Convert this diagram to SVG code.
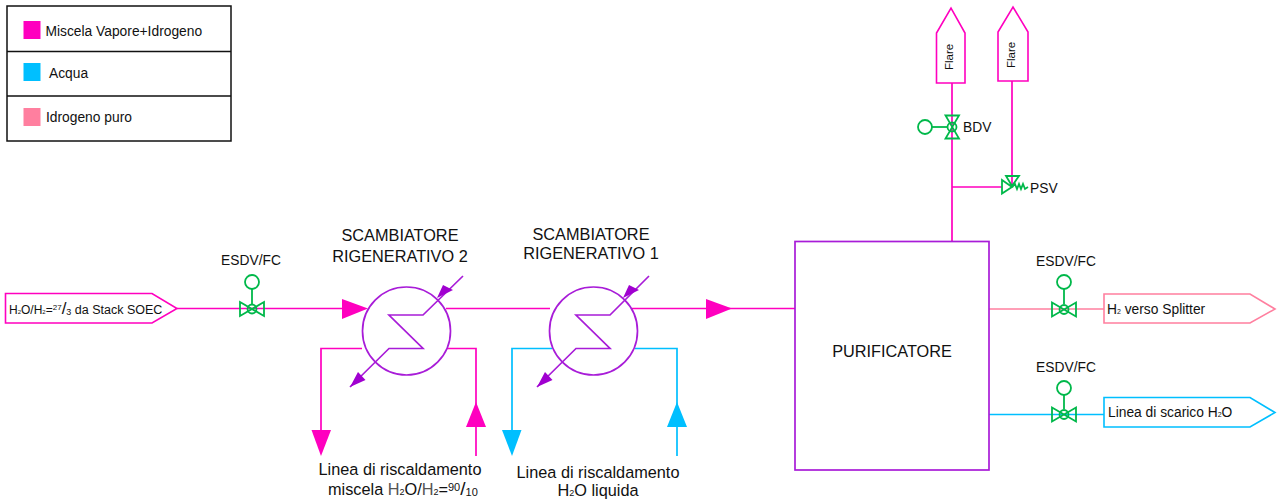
<svg xmlns="http://www.w3.org/2000/svg" width="1277" height="499" viewBox="0 0 1277 499">
<style>
text{font-family:"Liberation Sans",Arial,sans-serif;fill:#111;font-size:13.800px}
.big{font-size:16.300px}
.m{stroke:#ff00bf}.c{stroke:#00bfff}.p{stroke:#ff7f9f}.v{stroke:#a81cd8}
.l{fill:none;stroke-width:1.7}
.mf{fill:#ff00bf}.cf{fill:#00bfff}.vf{fill:#a000d0}.pf{fill:#ff7f9f}
.g{fill:none;stroke:#00b84a;stroke-width:1.8}
.k{fill:none;stroke:#111;stroke-width:1.5}
.tag{fill:#fff;stroke-width:1.6}
</style>
<defs>
<g id="valve">
<path class="g" d="M-12-7L12 7V-7L-12 7Z"/><circle class="g" r="4.500"/>
</g>
</defs>
<g id="legend">
<rect class="k" x="7" y="6" width="224" height="135"/>
<path class="k" d="M7 51.500H231M7 96H231"/>
<rect class="mf" x="23.500" y="21" width="17" height="18"/>
<rect class="cf" x="23.500" y="63" width="17" height="18"/>
<rect class="pf" x="23.500" y="108" width="17" height="18"/>
<text x="45.500" y="36">Miscela Vapore+Idrogeno</text>
<text x="49" y="78">Acqua</text>
<text x="46" y="122">Idrogeno puro</text>
</g>
<g id="connectors">
<path class="l m" d="M177 308.500H362M446 308.500H550M632 308.500H795"/>
<path class="l m" d="M362 348.500H321V432M447 348.500H476V456"/>
<path class="l c" d="M552 348.500H512V432M635 348.500H677V456"/>
<path class="l p" d="M989 309H1104"/>
<path class="l c" d="M989 414.500H1104"/>
<path class="l m" d="M952 241V83M1012 81V185M952 187H1002"/>
<path class="mf" d="M342 299L368 308.500L342 319Z"/>
<path class="mf" d="M706 299L732 308.500L706 319Z"/>
<path class="mf" d="M311.500 430H331L321 456Z"/>
<path class="mf" d="M466 427H486L476 402Z"/>
<path class="cf" d="M502 430H521.500L512 456Z"/>
<path class="cf" d="M667 427H687L677 402Z"/>
</g>
<g id="inlet">
<path class="tag m" d="M5.500 293.500H152L177 308.500L152 323H5.500Z"/>
<text x="9" y="314"><tspan style="font-size:12px">H</tspan><tspan style="font-size:6px">2</tspan><tspan style="font-size:12px">O/H</tspan><tspan style="font-size:6px">2</tspan><tspan style="font-size:12px">=</tspan><tspan dy="-4" style="font-size:8px">27</tspan><tspan dy="4" style="font-size:17px">/</tspan><tspan dy="1" style="font-size:9px">3</tspan><tspan dy="-1" style="font-size:12.500px"> da Stack SOEC</tspan></text>
</g>
<g id="valve-1">
<use href="#valve" x="252" y="309"/>
<path class="g" d="M252 289V304"/><circle class="g" cx="252" cy="282" r="7"/>
<text x="251" y="265" text-anchor="middle">ESDV/FC</text>
</g>
<g id="hx2">
<circle class="l v" cx="406.500" cy="331" r="44"/>
<path class="l v" d="M463 276L423 315H389L423 348.500H389L350 387"/>
<path class="vf" d="M437 298L453 290L443 285Z"/>
<path class="vf" d="M350 387L358 372L365.500 380Z"/>
<text class="big" x="400" y="241" text-anchor="middle">SCAMBIATORE</text>
<text class="big" x="400" y="262" text-anchor="middle">RIGENERATIVO 2</text>
<text class="big" x="400" y="475" text-anchor="middle">Linea di riscaldamento</text>
<text class="big" x="328" y="495">miscela <tspan fill="#555">H</tspan><tspan style="font-size:9px">2</tspan>O/<tspan fill="#555">H</tspan><tspan style="font-size:9px">2</tspan>=<tspan dy="-4" style="font-size:11px">90</tspan><tspan dy="4" style="font-size:19px">/</tspan><tspan dy="1" style="font-size:11px">10</tspan></text>
</g>
<g id="hx1">
<circle class="l v" cx="593.500" cy="331" r="44"/>
<path class="l v" d="M649 276L610 315H576L610 348.500H576L537 387"/>
<path class="vf" d="M623 298L639 290L629 285Z"/>
<path class="vf" d="M537 387L545 372L552.500 380Z"/>
<text class="big" x="591" y="240" text-anchor="middle">SCAMBIATORE</text>
<text class="big" x="591" y="259" text-anchor="middle">RIGENERATIVO 1</text>
<text class="big" x="598" y="478" text-anchor="middle">Linea di riscaldamento</text>
<text class="big" x="598" y="496" text-anchor="middle">H<tspan style="font-size:9px">2</tspan>O liquida</text>
</g>
<g id="purificatore">
<rect class="l v" x="795" y="241.500" width="194" height="228.500"/>
<text class="big" x="892" y="357" text-anchor="middle">PURIFICATORE</text>
</g>
<g id="flare-1">
<path class="tag m" d="M936.500 83H965V33L951 8L936.500 33Z"/>
<text transform="translate(953,70) rotate(-90)" style="font-size:11.500px">Flare</text>
</g>
<g id="flare-2">
<path class="tag m" d="M998 81H1028V32L1013 7L998 32Z"/>
<text transform="translate(1015,68) rotate(-90)" style="font-size:11.500px">Flare</text>
</g>
<g id="bdv">
<path class="g" d="M945.500 115.500H959L945.500 138.500H959Z"/><circle class="g" cx="952" cy="127" r="4.500"/>
<path class="g" d="M932 127H947"/><circle class="g" cx="925" cy="127" r="7"/>
<text x="963" y="132">BDV</text>
</g>
<g id="psv">
<path class="g" d="M1002 180V193.500L1012 187ZM1006 176H1019L1012 186Z"/>
<path class="g" d="M1012 187L1015 184L1017 189L1019 184L1021 189L1023 184L1025 189L1028 187"/>
<text x="1030" y="193">PSV</text>
</g>
<g id="valve-2">
<use href="#valve" x="1064" y="309.500"/>
<path class="g" d="M1064 289V304"/><circle class="g" cx="1064" cy="282" r="7"/>
<text x="1066" y="266" text-anchor="middle">ESDV/FC</text>
</g>
<g id="valve-3">
<use href="#valve" x="1064" y="414.500"/>
<path class="g" d="M1064 395V409"/><circle class="g" cx="1064" cy="388" r="7"/>
<text x="1066" y="372" text-anchor="middle">ESDV/FC</text>
</g>
<g id="outlet-h2">
<path class="tag p" d="M1104 294H1250L1275 309L1250 323H1104Z"/>
<text x="1107" y="314">H<tspan style="font-size:7px">2</tspan> verso Splitter</text>
</g>
<g id="outlet-water">
<path class="tag c" d="M1104 397.500H1250L1275 412.500L1250 427H1104Z"/>
<text x="1108" y="417">Linea di scarico H<tspan style="font-size:7px">2</tspan>O</text>
</g>
</svg>
